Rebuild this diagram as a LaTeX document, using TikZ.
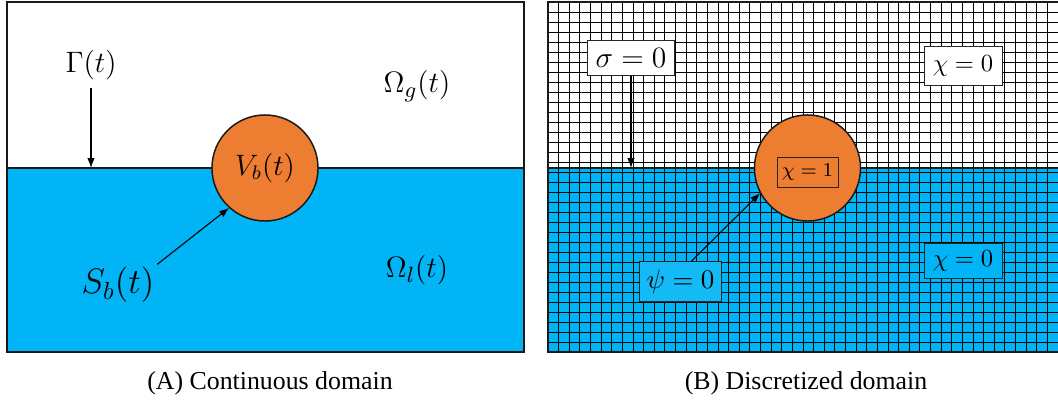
\documentclass[tikz,border=0pt]{standalone}
\usepackage{fontspec}
\usepackage{amsmath}
\usetikzlibrary{arrows.meta}
\newfontfamily\capfont{Liberation Serif}
\definecolor{water}{RGB}{0,180,245}
\definecolor{bubble}{RGB}{237,125,49}

\begin{document}
\begin{tikzpicture}[x=0.14286mm,y=-0.14286mm,
  frame/.style={draw=black!90,line width=0.6pt},
  gridline/.style={draw=black,line width=0.35pt},
  bub/.style={circle,draw=black!90,line width=0.6pt,fill=bubble,minimum size=43.1pt,inner sep=0pt,font=\large},
  lab/.style={font=\fontsize{13}{15}\selectfont},
  tag/.style={draw=black!85,line width=0.4pt,inner xsep=1pt,inner ysep=2pt,font=\large},
  pin/.style={-{Latex[length=4pt,width=3pt]},line width=0.45pt},
  captext/.style={font=\capfont\fontsize{10.5}{12}\selectfont}]

  \useasboundingbox (0,0) rectangle (1058,404);

  % (A) continuous domain
  \fill[water] (7,168) rectangle (524,352);
  \draw[frame] (7,168) -- (524,168);
  \draw[frame] (7,2) rectangle (524,352);
  \node[bub] (bubA) at (265,168) {$V_b(t)$};
  \node[lab,font=\large] (gam) at (91,65)  {$\Gamma(t)$};
  \node[lab] (omg) at (417,86)  {$\Omega_g(t)$};
  \node[lab] (oml) at (417,270) {$\Omega_l(t)$};
  \node[lab,font=\Large,inner sep=1pt] (sb)  at (118,285) {$S_b(t)$};
  \coordinate (gamA) at (91,168);
  \draw[pin] (gam.south) -- (gamA);
  \draw[pin] (sb.north east) -- (bubA.228);

  % (B) discretized domain
  \fill[water] (548,168) rectangle (1060,352);
  \foreach \i in {1,...,47}
    \draw[gridline] ({548+\i*10.625},2) -- ({548+\i*10.625},352);
  \foreach \j in {1,...,34}
    \draw[gridline] (548,{2+\j*10}) -- (1060,{2+\j*10});
  \draw[frame] (548,168) -- (1060,168);
  \draw[frame] (548,2) rectangle (1060,352);
  \node[bub] (bubB) at (807.5,168) {};
  \node[tag,font=\fontsize{8.3}{10}\selectfont,minimum width=24.8pt,minimum height=11.8pt,inner ysep=1pt] (chib) at (807.5,172.5) {$\chi=1$};
  \node[tag,fill=white,minimum width=35pt,minimum height=14.6pt] (sig) at (631,58) {$\sigma=0$};
  \node[tag,font=\normalsize,fill=white,minimum width=31.7pt,minimum height=15.5pt] (chig) at (963,66) {$\chi=0$};
  \node[tag,font=\normalsize,fill=water,minimum width=31.7pt,minimum height=14.6pt] (chil) at (963,261) {$\chi=0$};
  \node[tag,font=\fontsize{10.8}{13}\selectfont,fill=water!92!white,minimum width=33pt,minimum height=15.9pt] (psi) at (680.5,281.5) {$\psi=0$};
  \coordinate (gamB) at (631,168);
  \draw[pin] (sig.south) -- (gamB);
  \draw[pin] (psi.62) -- (bubB.208);

  \node[captext] (capA) at (270,383) {(A) Continuous domain};
  \node[captext] (capB) at (806,383) {(B) Discretized domain};
\end{tikzpicture}
\end{document}
